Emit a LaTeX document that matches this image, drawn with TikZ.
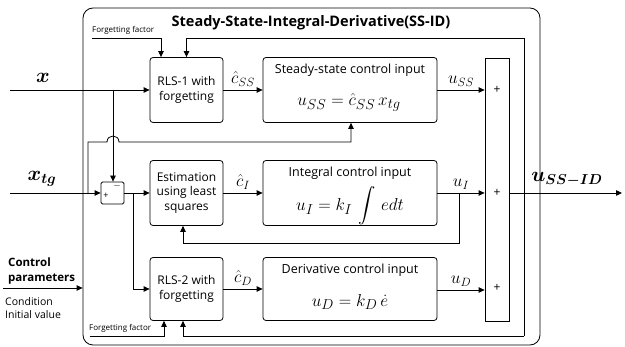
\documentclass[tikz,border=0pt]{standalone}
\usepackage{amsmath,bm}
\usepackage{fontspec}
\setmainfont{Open Sans}
\usetikzlibrary{arrows.meta}
\tikzset{
  blk/.style={draw, rounded corners=3pt, line width=0.8pt, align=center,
    inner sep=1pt, font=\fontsize{12}{14.5}\selectfont},
  narrow/.style={blk, minimum width=73pt, minimum height=65pt},
  wide/.style={blk, minimum width=174pt, minimum height=65pt},
  head/.style={font=\fontsize{12.5}{14}\selectfont, inner sep=0pt},
  arr/.style={-{Triangle[length=6pt,width=5.5pt]}, line width=0.8pt},
  ln/.style={line width=0.8pt},
  sig/.style={font=\fontsize{17}{19}\selectfont},
  eqn/.style={font=\fontsize{19}{21}\selectfont, inner sep=0pt},
  small/.style={font=\fontsize{8}{9}\selectfont, inner sep=0pt},
  lbl/.style={font=\fontsize{10.5}{13.5}\selectfont, align=left, inner sep=0pt},
}
\begin{document}
\begin{tikzpicture}[x=1pt,y=-1pt]
\useasboundingbox (0,0) rectangle (625,347);

% enclosing controller frame
\node[draw, ln, rounded corners=10pt, minimum width=457pt, minimum height=337pt,
  inner sep=0pt] (outer) at (311.5,176.5) {};
\node[font=\fontsize{14.5}{16}\selectfont\bfseries, inner sep=0pt] (title) at (311,23)
  {Steady-State-Integral-Derivative(SS-ID)};

% estimator blocks
\node[narrow] (rls1) at (186.5,90) {RLS-1 with\\forgetting};
\node[narrow] (est) at (186.5,193) {Estimation\\using least\\squares};
\node[narrow, minimum height=63pt] (rls2) at (186.5,289) {RLS-2 with\\forgetting};

% control law blocks: frame, heading and law
\node[wide] (ss) at (350,90) {};
\node[head] (sst) at (350,70) {Steady-state control input};
\node[eqn] (sse) at (349,102) {$u_{SS}=\hat{c}_{SS}\,x_{tg}$};

\node[wide] (int) at (350,193) {};
\node[head] (intt) at (350,173) {Integral control input};
\node[eqn] (inte) at (350,206) {$u_{I}=k_{I}\,\displaystyle\int\,edt$};

\node[wide, minimum height=63pt] (der) at (350,289) {};
\node[head] (dert) at (350,270) {Derivative control input};
\node[eqn] (dere) at (350,302) {$u_{D}=k_{D}\,\dot{e}$};

% summing block
\node[draw, ln, minimum width=24pt, minimum height=263pt, inner sep=0pt] (sum) at (497,189.5) {};
\node[font=\fontsize{12}{14}\selectfont] (p1) at (497,90) {+};
\node[font=\fontsize{12}{14}\selectfont] (p2) at (497,193) {+};
\node[font=\fontsize{12}{14}\selectfont] (p3) at (497,288) {+};

% error junction
\node[draw, ln, rounded corners=1.5pt, minimum width=23pt, minimum height=22pt, inner sep=0pt] (jn) at (112.5,193) {};
\node[font=\fontsize{9}{10}\selectfont, inner sep=0pt] (jp) at (106,196) {+};
\node[font=\fontsize{10}{10}\selectfont, inner sep=0pt] (jm) at (117,186) {$-$};

% external inputs
\coordinate (xin) at (10,90);
\coordinate (xtin) at (10,193);
\coordinate (cpin) at (3,288);
\node[font=\fontsize{22}{24}\selectfont] (xl) at (43,78) {$\bm{x}$};
\node[font=\fontsize{22}{24}\selectfont] (xtl) at (42,179) {$\bm{x_{tg}}$};
\node[lbl, font=\fontsize{11.5}{15}\selectfont\bfseries, anchor=west] (cpl) at (8,271) {Control\\parameters};
\node[lbl, anchor=west] (cpc) at (5,308) {Condition\\Initial value};
\draw[arr] (cpin) -- (cpin -| outer.west);

% x path
\draw[arr] (xin) -- (rls1.west);
\coordinate (xb) at (113,90);
\draw[arr] (xb) -- (xb |- jn.north);

% x_tg path and feed-forward branch with a hop
\draw[arr] (xtin) -- (jn.west);
\coordinate (tb) at (88,193);
\coordinate (tc) at (88,142);
\coordinate (h1) at (107,142);
\coordinate (h2) at (119,142);
\coordinate (tr) at (351,142);
\draw[arr] (tb) -- (tc) -- (h1) .. controls (107,134) and (119,134) .. (h2) -- (tr) -- (tr |- ss.south);

% error distribution
\draw[arr] (jn.east) -- (est.west);
\coordinate (eb) at (133,193);
\draw[arr] (eb) |- (rls2.west);

% parameter estimates
\draw[arr] (rls1.east) -- node[sig, above=0pt] {$\hat{c}_{SS}$} (ss.west);
\draw[arr] (est.east) -- node[sig, above=0pt] {$\hat{c}_{I}$} (int.west);
\draw[arr] (rls2.east) -- node[sig, above=0pt] {$\hat{c}_{D}$} (der.west);

% control components into the sum
\draw[arr] (ss.east) -- node[sig, above=0pt] {$u_{SS}$} (ss.east -| sum.west);
\draw[arr] (int.east) -- node[sig, above=0pt] {$u_{I}$} (int.east -| sum.west);
\draw[arr] ([yshift=-1]der.east) -- node[sig, above=0pt] {$u_{D}$} ([yshift=-1]der.east -| sum.west);

% integral feedback
\coordinate (ib) at (459,193);
\coordinate (ic) at (183,243);
\draw[arr] (ib) |- (ic) -- (ic |- est.south);

% output and outer feedback loop
\coordinate (out) at (622,193);
\draw[arr] (sum.east |- out) -- (out);
\node[font=\fontsize{20}{22}\selectfont, inner sep=0pt] (outl) at (567,179) {$\bm{u_{SS-ID}}$};
\coordinate (fbt) at (524,38);
\coordinate (fbb) at (524,336);
\draw[arr] (fbb) -- (fbt) -| (rls1.north);
\draw[arr] (fbb) -| ([xshift=-3.5]rls2.south);

% forgetting factors
\coordinate (ff1) at (92,38);
\node[small, anchor=west] (ff1l) at (92,30) {Forgetting factor};
\draw[arr] (ff1) -| ([xshift=-25.5]rls1.north);
\coordinate (ff2) at (90,336);
\node[small, anchor=west] (ff2l) at (89,328) {Forgetting factor};
\draw[arr] (ff2) -| ([xshift=-22.5]rls2.south);
\end{tikzpicture}
\end{document}
